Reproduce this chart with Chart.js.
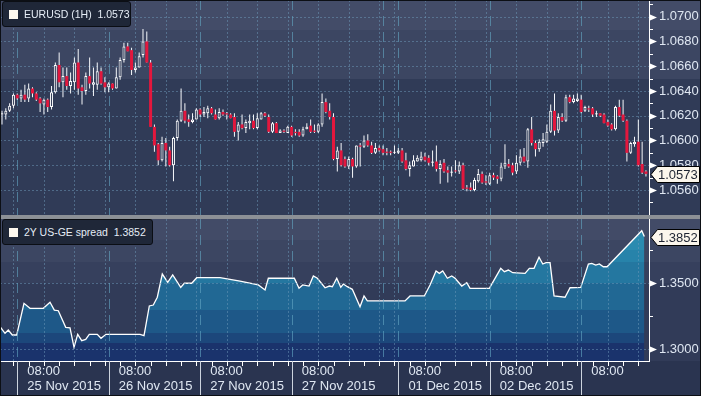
<!DOCTYPE html>
<html>
<head>
<meta charset="utf-8">
<script src="https://cdn.jsdelivr.net/npm/chart.js@4.4.1/dist/chart.umd.min.js"></script>
<style>
html,body{margin:0;padding:0;background:#2a3450;}
#wrap{position:relative;width:701px;height:396px;overflow:hidden;background:#2a3450;font-family:"Liberation Sans",Arial,sans-serif;}
canvas{position:absolute;left:0;display:block;}
#cTop{top:0;}
#cBot{top:219px;}
#sep{position:absolute;left:0;top:215px;width:701px;height:4px;background:#8c9096;}
.leg{position:absolute;left:2px;height:26px;box-sizing:border-box;border:1px solid #0b0e14;border-radius:3px;background:#1f2738;color:#e6edf6;font-size:10.5px;z-index:5;}
.leg i{position:absolute;left:6px;top:8px;width:9px;height:9px;background:#fdf8ef;}
.leg span{position:absolute;left:21px;top:6px;white-space:pre;line-height:13px;}
#frame{position:absolute;left:0;top:0;width:701px;height:396px;box-sizing:border-box;border:1px solid #0c0f15;pointer-events:none;z-index:9;}
</style>
</head>
<body>
<div id="wrap">
<canvas id="cTop" width="701" height="215"></canvas>
<div id="sep"></div>
<canvas id="cBot" width="701" height="177"></canvas>
<div class="leg" style="top:1px;width:129px"><i></i><span id="legTopTxt"></span></div>
<div class="leg" style="top:219px;width:151px"><i></i><span id="legBotTxt"></span></div>
<div id="frame"></div>
</div>
<script>
// ---------- DATA ----------
const openP = [
1.0621,1.0621,1.0624,1.0628,1.0637,1.0634,1.0637,1.0634,1.0642,1.0638,
1.0634,1.0629,1.0633,1.0627,1.0639,1.0661,1.0647,1.0652,1.0644,1.0647,
1.0663,1.0643,1.0640,1.0652,1.0645,1.0645,1.0656,1.0647,1.0643,1.0646,
1.0642,1.0651,1.0665,1.0676,1.0673,1.0657,1.0659,1.0669,1.0680,1.0663,
1.0611,1.0597,1.0584,1.0598,1.0592,1.0580,1.0602,1.0616,1.0624,1.0617,
1.0615,1.0617,1.0625,1.0621,1.0622,1.0626,1.0621,1.0618,1.0623,1.0622,
1.0621,1.0619,1.0607,1.0613,1.0610,1.0614,1.0616,1.0610,1.0617,1.0622,
1.0619,1.0607,1.0614,1.0606,1.0608,1.0606,1.0611,1.0607,1.0607,1.0604,
1.0609,1.0612,1.0608,1.0607,1.0613,1.0631,1.0624,1.0619,1.0585,1.0592,
1.0585,1.0579,1.0585,1.0579,1.0596,1.0595,1.0600,1.0596,1.0590,1.0594,
1.0593,1.0591,1.0591,1.0590,1.0590,1.0592,1.0584,1.0577,1.0579,1.0583,
1.0584,1.0587,1.0586,1.0582,1.0583,1.0577,1.0582,1.0576,1.0574,1.0575,
1.0575,1.0580,1.0562,1.0562,1.0560,1.0567,1.0573,1.0567,1.0565,1.0572,
1.0571,1.0569,1.0579,1.0581,1.0580,1.0575,1.0582,1.0587,1.0583,1.0609,
1.0598,1.0593,1.0598,1.0599,1.0607,1.0624,1.0608,1.0619,1.0616,1.0635,
1.0631,1.0632,1.0633,1.0624,1.0626,1.0626,1.0621,1.0622,1.0621,1.0615,
1.0613,1.0609,1.0627,1.0621,1.0616,1.0590,1.0597,1.0599,1.0581,1.0575];
const highP = [
1.0624,1.0626,1.0630,1.0638,1.0638,1.0641,1.0645,1.0646,1.0643,1.0639,
1.0635,1.0634,1.0634,1.0644,1.0663,1.0671,1.0659,1.0659,1.0655,1.0667,
1.0674,1.0645,1.0655,1.0667,1.0659,1.0663,1.0659,1.0651,1.0647,1.0646,
1.0659,1.0667,1.0679,1.0679,1.0675,1.0663,1.0671,1.0690,1.0688,1.0665,
1.0613,1.0598,1.0603,1.0602,1.0595,1.0603,1.0617,1.0642,1.0630,1.0621,
1.0622,1.0626,1.0626,1.0627,1.0628,1.0627,1.0625,1.0626,1.0625,1.0623,
1.0622,1.0622,1.0615,1.0621,1.0617,1.0621,1.0621,1.0622,1.0623,1.0623,
1.0621,1.0615,1.0615,1.0609,1.0609,1.0612,1.0612,1.0609,1.0609,1.0611,
1.0614,1.0617,1.0613,1.0614,1.0638,1.0634,1.0630,1.0622,1.0595,1.0598,
1.0587,1.0587,1.0586,1.0596,1.0598,1.0604,1.0605,1.0599,1.0598,1.0596,
1.0596,1.0594,1.0592,1.0596,1.0594,1.0594,1.0590,1.0583,1.0588,1.0588,
1.0591,1.0590,1.0588,1.0592,1.0596,1.0584,1.0585,1.0579,1.0579,1.0584,
1.0583,1.0582,1.0564,1.0566,1.0570,1.0577,1.0575,1.0572,1.0574,1.0574,
1.0572,1.0582,1.0597,1.0585,1.0582,1.0588,1.0593,1.0594,1.0610,1.0619,
1.0600,1.0601,1.0606,1.0613,1.0629,1.0638,1.0622,1.0622,1.0637,1.0637,
1.0637,1.0638,1.0637,1.0628,1.0628,1.0627,1.0624,1.0622,1.0622,1.0617,
1.0614,1.0628,1.0633,1.0633,1.0617,1.0599,1.0603,1.0617,1.0599,1.0576];
const lowP = [
1.0613,1.0617,1.0623,1.0626,1.0633,1.0631,1.0631,1.0631,1.0635,1.0632,
1.0623,1.0621,1.0623,1.0625,1.0638,1.0643,1.0635,1.0641,1.0638,1.0641,
1.0637,1.0629,1.0637,1.0642,1.0636,1.0641,1.0645,1.0639,1.0639,1.0641,
1.0642,1.0649,1.0663,1.0672,1.0653,1.0655,1.0659,1.0667,1.0663,1.0611,
1.0591,1.0580,1.0583,1.0579,1.0579,1.0567,1.0600,1.0615,1.0614,1.0611,
1.0614,1.0617,1.0619,1.0619,1.0618,1.0621,1.0617,1.0617,1.0620,1.0617,
1.0618,1.0603,1.0600,1.0609,1.0606,1.0609,1.0609,1.0609,1.0617,1.0619,
1.0606,1.0606,1.0606,1.0606,1.0606,1.0606,1.0603,1.0604,1.0603,1.0603,
1.0609,1.0606,1.0606,1.0606,1.0611,1.0622,1.0617,1.0584,1.0575,1.0579,
1.0578,1.0577,1.0570,1.0578,1.0579,1.0594,1.0595,1.0589,1.0589,1.0591,
1.0588,1.0588,1.0588,1.0589,1.0589,1.0582,1.0576,1.0571,1.0579,1.0583,
1.0583,1.0583,1.0580,1.0579,1.0575,1.0565,1.0574,1.0566,1.0571,1.0574,
1.0573,1.0560,1.0559,1.0559,1.0559,1.0566,1.0565,1.0564,1.0564,1.0568,
1.0565,1.0567,1.0577,1.0578,1.0572,1.0573,1.0580,1.0582,1.0578,1.0596,
1.0587,1.0591,1.0595,1.0598,1.0606,1.0604,1.0606,1.0615,1.0615,1.0630,
1.0630,1.0631,1.0622,1.0623,1.0623,1.0619,1.0619,1.0619,1.0614,1.0611,
1.0608,1.0608,1.0619,1.0615,1.0583,1.0589,1.0595,1.0579,1.0573,1.0571];
const closeP = [
1.0622,1.0624,1.0628,1.0637,1.0634,1.0637,1.0633,1.0642,1.0638,1.0633,
1.0630,1.0633,1.0627,1.0639,1.0661,1.0647,1.0652,1.0644,1.0648,1.0663,
1.0642,1.0640,1.0652,1.0646,1.0647,1.0656,1.0646,1.0643,1.0646,1.0642,
1.0651,1.0665,1.0676,1.0672,1.0657,1.0659,1.0668,1.0680,1.0663,1.0611,
1.0596,1.0584,1.0598,1.0592,1.0580,1.0602,1.0616,1.0624,1.0616,1.0615,
1.0617,1.0625,1.0621,1.0623,1.0626,1.0622,1.0617,1.0623,1.0621,1.0621,
1.0618,1.0607,1.0613,1.0610,1.0615,1.0616,1.0610,1.0618,1.0622,1.0620,
1.0607,1.0614,1.0606,1.0608,1.0607,1.0611,1.0604,1.0606,1.0604,1.0609,
1.0611,1.0607,1.0607,1.0613,1.0631,1.0623,1.0619,1.0585,1.0592,1.0580,
1.0579,1.0585,1.0579,1.0596,1.0595,1.0600,1.0596,1.0590,1.0594,1.0592,
1.0590,1.0590,1.0590,1.0591,1.0592,1.0583,1.0577,1.0580,1.0584,1.0586,
1.0587,1.0584,1.0582,1.0583,1.0577,1.0581,1.0575,1.0574,1.0575,1.0575,
1.0580,1.0561,1.0561,1.0560,1.0568,1.0573,1.0566,1.0566,1.0572,1.0570,
1.0569,1.0579,1.0582,1.0579,1.0574,1.0582,1.0587,1.0583,1.0609,1.0598,
1.0593,1.0599,1.0601,1.0607,1.0624,1.0608,1.0619,1.0616,1.0635,1.0631,
1.0634,1.0634,1.0623,1.0627,1.0625,1.0621,1.0622,1.0620,1.0614,1.0612,
1.0609,1.0627,1.0620,1.0616,1.0590,1.0598,1.0599,1.0580,1.0574,1.0573];

// spread series: x in hour index (same axis as candles), y value
const spreadHours = [-0.5,0.79,1.65,2.70,3.86,5.77,7.35,10.84,12.60,13.73,14.78,16.72,17.85,18.90,19.87,20.92,21.97,22.91,25.01,25.98,27.30,36.22,37.27,38.66,39.71,40.76,42.07,43.49,44.80,46.90,47.85,49.79,51.10,57.22,62.47,67.27,69.03,69.90,76.72,77.95,78.92,80.58,81.71,82.76,84.78,85.91,86.69,87.85,88.90,89.58,90.63,91.94,93.96,95.01,95.88,105.77,107.09,110.84,112.34,113.91,114.78,115.67,116.88,118.03,118.90,120.66,121.97,122.83,127.90,130.89,131.84,132.89,134.04,137.27,138.40,139.63,140.94,141.92,142.78,143.83,144.88,147.77,149.08,151.89,153.89,154.78,155.83,156.77,157.82,158.79,167.90,168.58];
const spreadValues = [1.3169,1.3119,1.3144,1.3106,1.3106,1.3346,1.3308,1.3308,1.3354,1.3295,1.3290,1.3164,1.3161,1.3013,1.3111,1.3063,1.3073,1.3111,1.3111,1.3081,1.3111,1.3111,1.3101,1.3326,1.3333,1.3392,1.3568,1.3505,1.3561,1.3467,1.3498,1.3498,1.3540,1.3540,1.3515,1.3485,1.3447,1.3536,1.3536,1.3460,1.3485,1.3477,1.3553,1.3536,1.3464,1.3477,1.3472,1.3536,1.3467,1.3492,1.3472,1.3452,1.3320,1.3402,1.3364,1.3364,1.3402,1.3402,1.3485,1.3591,1.3573,1.3591,1.3536,1.3553,1.3536,1.3477,1.3502,1.3460,1.3460,1.3611,1.3586,1.3598,1.3578,1.3573,1.3611,1.3611,1.3695,1.3644,1.3654,1.3654,1.3402,1.3392,1.3464,1.3467,1.3644,1.3649,1.3636,1.3644,1.3623,1.3623,1.3896,1.3852];

const dayStartHours = [4, 28, 52, 76, 100, 104, 128, 152];  // 00:00 boundaries (hour index)
const labelDayHours = [4, 28, 52, 76, 104, 128, 152];
const timeLabels = ['08:00','08:00','08:00','08:00','08:00','08:00','08:00'];
const dateLabels = ['25 Nov 2015','26 Nov 2015','27 Nov 2015','27 Nov 2015','01 Dec 2015','02 Dec 2015',''];
const yTicksTop = [1.056,1.058,1.060,1.062,1.064,1.066,1.068,1.070];
const yTicksBottom = [1.30,1.35];
const seriesTitleTop = 'EURUSD (1H)';
const seriesTitleBottom = '2Y US-GE spread';

// ---------- STYLE / LAYOUT ----------
const H0 = -0.525, H1 = 169.8;
const TOP_MIN = 1.053981, TOP_MAX = 1.071349;
const BOT_MIN = 1.29091, BOT_MAX = 1.39848;
const GRID_SHORT = 'rgba(110,153,185,0.5)';
const GRID_DAY = 'rgba(100,169,197,0.6)';
const TXT = '#dfe7f2';
const RED = '#e3173d';
const FONT = 'Liberation Sans';

const lastClose = closeP[closeP.length-1];
const lastSpread = spreadValues[spreadValues.length-1];
document.getElementById('legTopTxt').textContent = seriesTitleTop + '  ' + lastClose.toFixed(4);
document.getElementById('legBotTxt').textContent = seriesTitleBottom + '  ' + lastSpread.toFixed(4);

function gridHours(step){
  const out=[];
  for(let h=3; h<100; h+=step) out.push(h);
  for(let h=103; h<H1; h+=step) out.push(h);
  return out;
}

function bandsPlugin(bands, axisBg){
  return { id:'bands', beforeDraw(chart){
    const {ctx, chartArea:a, width, height} = chart;
    ctx.save();
    for(const [y0,y1,c] of bands){ ctx.fillStyle=c; ctx.fillRect(0, a.top+y0, width, y1-y0); }
    if(axisBg){ ctx.fillStyle=axisBg; ctx.fillRect(0, a.bottom, width, height-a.bottom); }
    ctx.restore();
  }};
}

function drawGrid(chart, yTicks){
  const {ctx, chartArea:a, scales:{x,y}} = chart;
  ctx.save();
  ctx.beginPath(); ctx.rect(a.left, a.top, a.right-a.left, a.bottom-a.top); ctx.clip();
  ctx.lineWidth=1;
  ctx.strokeStyle=GRID_SHORT; ctx.setLineDash([2,2]);
  ctx.beginPath();
  for(const v of yTicks){ const py=Math.round(y.getPixelForValue(v))+0.5; ctx.moveTo(a.left,py); ctx.lineTo(a.right,py); }
  for(const h of gridHours(8)){ const px=Math.round(x.getPixelForValue(h))+0.5; ctx.moveTo(px,a.top); ctx.lineTo(px,a.bottom); }
  ctx.stroke();
  ctx.strokeStyle=GRID_DAY; ctx.setLineDash([10,6]);
  ctx.beginPath();
  for(const h of dayStartHours){ const px=Math.round(x.getPixelForValue(h))+0.5; ctx.moveTo(px,a.top); ctx.lineTo(px,a.bottom); }
  ctx.stroke();
  ctx.restore();
}

function drawRightAxis(chart, majors, minorStep){
  const {ctx, chartArea:a, scales:{y}} = chart;
  ctx.save();
  ctx.strokeStyle='#ffffff'; ctx.fillStyle='#ffffff'; ctx.lineWidth=1;
  ctx.beginPath(); ctx.moveTo(a.right+0.5, a.top); ctx.lineTo(a.right+0.5, a.bottom); ctx.stroke();
  for(const v of majors){
    const py=Math.round(y.getPixelForValue(v))+0.5;
    ctx.beginPath(); ctx.moveTo(a.right+1, py-3); ctx.lineTo(a.right+8, py); ctx.lineTo(a.right+1, py+3); ctx.closePath(); ctx.fill();
  }
  ctx.beginPath();
  const minors=[];
  for(const v of majors){ minors.push(v-minorStep); }
  minors.push(majors[majors.length-1]+minorStep);
  for(const v of minors){
    const py=Math.round(y.getPixelForValue(v))+0.5;
    if(py<a.top||py>a.bottom) continue;
    ctx.moveTo(a.right, py); ctx.lineTo(a.right+4, py);
  }
  ctx.stroke();
  ctx.restore();
}

function drawTag(chart, value){
  const {ctx, chartArea:a, scales:{y}, width} = chart;
  const py=Math.round(y.getPixelForValue(value));
  const x0=a.right+2, x1=a.right+8, x2=width-1;
  ctx.save();
  ctx.beginPath();
  ctx.moveTo(x0, py+0.5); ctx.lineTo(x1+0.5, py-7.5); ctx.lineTo(x2-0.5, py-7.5);
  ctx.lineTo(x2-0.5, py+8.5); ctx.lineTo(x1+0.5, py+8.5); ctx.closePath();
  ctx.fillStyle='#fbf6ec'; ctx.fill();
  ctx.strokeStyle='#000000'; ctx.lineWidth=1; ctx.stroke();
  ctx.fillStyle='#1d2331'; ctx.font='13px "'+FONT+'"'; ctx.textBaseline='middle'; ctx.textAlign='left';
  ctx.fillText(value.toFixed(4), x1+1, py+1);
  ctx.restore();
}

function yScale(min, max, ticks, fmt){
  return {
    position:'right', min, max, bounds:'data',
    afterBuildTicks: s => { s.ticks = ticks.map(v => ({value:v})); },
    afterFit: s => { s.width = 52; s.paddingTop = 0; s.paddingBottom = 0; },
    grid:{display:false, drawTicks:false}, border:{display:false},
    ticks:{ color:TXT, font:{family:FONT, size:13}, padding:10, callback: v => Number(v).toFixed(4) }
  };
}

// ---------- TOP: candles ----------
const candleHours = openP.map((_, i) => i);
const isUp = i => closeP[i] > openP[i];

new Chart(document.getElementById('cTop'), {
  type:'bar',
  data:{ datasets:[
    { label:'body', data: candleHours.map((h,i)=>({x:h, y:[openP[i], closeP[i]]})),
      grouped:false, barThickness:3, minBarLength:1, borderSkipped:false, inflateAmount:0,
      backgroundColor: c => isUp(c.dataIndex) ? '#313c58' : RED,
      borderColor:'#ffffff', borderWidth: c => isUp(c.dataIndex) ? 1 : 0 },
    { label:'wick', data: candleHours.map((h,i)=>({x:h, y:[lowP[i], highP[i]]})),
      grouped:false, barThickness:1, borderWidth:0, inflateAmount:0, backgroundColor:'#f6f8fb' }
  ]},
  options:{
    responsive:false, animation:false, devicePixelRatio:1,
    layout:{padding:0},
    plugins:{legend:{display:false}, tooltip:{enabled:false}},
    scales:{
      x:{ type:'linear', min:H0, max:H1, bounds:'data', offset:false, display:false },
      y: yScale(TOP_MIN, TOP_MAX, yTicksTop)
    }
  },
  plugins:[
    bandsPlugin([[0,30,'#434c68'],[30,79,'#3c4662'],[79,215,'#303b57']], null),
    { id:'g', beforeDatasetsDraw(ch){ drawGrid(ch, yTicksTop); },
      afterDraw(ch){ drawRightAxis(ch, yTicksTop, 0.001); drawTag(ch, lastClose); } }
  ]
});

// ---------- BOTTOM: spread area ----------
const fillBands = [[0,31,'#2a8bb0'],[31,43,'#2783aa'],[43,64,'#2477a0'],[64,91,'#216894'],[91,114,'#1e5888'],[114,124,'#1c477b'],[124,142,'#1a336c']];
function fillGradient(c){
  const ch=c.chart, a=ch.chartArea;
  if(!a) return '#216894';
  const g=ch.ctx.createLinearGradient(0,a.top,0,a.bottom);
  const h=a.bottom-a.top;
  for(const [y0,y1,col] of fillBands){
    g.addColorStop(Math.min(1,y0/h), col);
    g.addColorStop(Math.min(1,y1/h)-0.0001>0?Math.min(1,y1/h)-0.0001:0, col);
  }
  return g;
}

new Chart(document.getElementById('cBot'), {
  type:'line',
  data:{ datasets:[
    { label:'spread', data: spreadHours.map((h,i)=>({x:h, y:spreadValues[i]})),
      borderColor:'#ffffff', borderWidth:1.3, pointRadius:0, tension:0,
      fill:'start', backgroundColor: fillGradient }
  ]},
  options:{
    responsive:false, animation:false, devicePixelRatio:1,
    layout:{padding:0},
    plugins:{legend:{display:false}, tooltip:{enabled:false}},
    scales:{
      x:{ type:'linear', position:'bottom', min:H0, max:H1, bounds:'data', offset:false,
        afterBuildTicks: s => { s.ticks = labelDayHours.map(d => ({value: d + 2.65})); },
        afterFit: s => { s.height = 35; s.paddingLeft = 0; s.paddingRight = 0; },
        grid:{display:false, drawTicks:false}, border:{display:false},
        ticks:{ autoSkip:false, maxRotation:0, minRotation:0, align:'start', padding:3, color:TXT,
          font:{family:FONT, size:13, lineHeight:1.15},
          callback:(v,i)=>[timeLabels[i], dateLabels[i]] } },
      y: yScale(BOT_MIN, BOT_MAX, yTicksBottom)
    }
  },
  plugins:[
    bandsPlugin([[0,21,'#424b67'],[21,43,'#3c4662'],[43,64,'#36405d'],[64,142,'#313b58']], '#2a3450'),
    { id:'g2', afterDatasetsDraw(ch){ drawGrid(ch, yTicksBottom); },
      afterDraw(ch){
        drawRightAxis(ch, yTicksBottom, 0.025);
        const {ctx, chartArea:a, scales:{x}, height} = ch;
        ctx.save(); ctx.strokeStyle='#ffffff'; ctx.lineWidth=1;
        ctx.beginPath(); ctx.moveTo(a.left, a.bottom+0.5); ctx.lineTo(a.right+1, a.bottom+0.5); ctx.stroke();
        ctx.beginPath();
        for(const h of gridHours(4)){ const px=Math.round(x.getPixelForValue(h))+0.5; ctx.moveTo(px,a.bottom); ctx.lineTo(px,a.bottom+5); }
        ctx.stroke();
        ctx.strokeStyle='#cdd4de'; ctx.beginPath();
        for(const h of labelDayHours){ const px=Math.round(x.getPixelForValue(h))+0.5; ctx.moveTo(px,a.bottom); ctx.lineTo(px,height); }
        ctx.stroke();
        ctx.restore();
        drawTag(ch, lastSpread);
      } }
  ]
});
</script>
</body>
</html>
